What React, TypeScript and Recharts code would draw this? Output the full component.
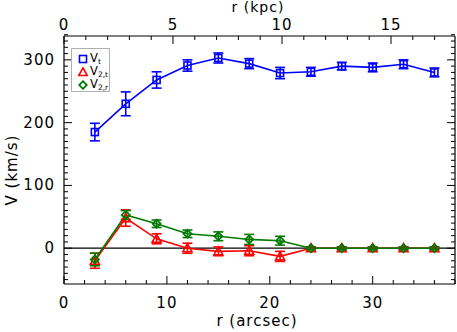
import React from "react";
import {
  ComposedChart,
  Line,
  XAxis,
  YAxis,
  ErrorBar,
  ReferenceLine,
} from "recharts";

// ---- data (r in arcsec) ----
const radii = [3, 6, 9, 12, 15, 18, 21, 24, 27, 30, 33, 36];
const vt = [185, 230, 268, 291, 303, 294, 279, 281, 290, 288, 293, 280];
const vtErr = [14, 19, 13, 9, 8, 8, 9, 7, 6, 7, 7, 7];
const v2t = [-20, 48, 15, 0, -5, -4, -13, 0, 0, 0, 0, 0];
const v2tErr = [12, 13, 8, 8, 7, 8, 8, 2, 2, 2, 2, 2];
const v2r = [-18, 53, 39, 23, 19, 14, 12, 0, 0, 0, 0, 0];
const v2rErr = [10, 7, 6, 6, 7, 8, 7, 2, 2, 2, 2, 2];

const bottomTicks = [0, 2, 4, 6, 8, 10, 12, 14, 16, 18, 20, 22, 24, 26, 28, 30, 32, 34, 36, 38];
const kpcTicks = [0, 1, 2, 3, 4, 5, 6, 7, 8, 9, 10, 11, 12, 13, 14, 15, 16, 17];
const yTicks = Array.from({ length: 40 }, (_, i) => -50 + i * 10);

const KPC_PER_ARCSEC = 0.472;
const X_DOMAIN: [number, number] = [0, 38];
const Y_DOMAIN: [number, number] = [-57, 338];

const data = radii.map((r, i) => ({
  r,
  vt: vt[i],
  vtErr: vtErr[i],
  v2t: v2t[i],
  v2tErr: v2tErr[i],
  v2r: v2r[i],
  v2rErr: v2rErr[i],
}));

const BLUE = "#0000ff";
const RED = "#ff0000";
const GREEN = "#007a00";
const FONT = "'DejaVu Sans', sans-serif";
const TICK_FONT_SIZE = 15;
const LABEL_COLOR = "#000";

const MAJOR = 8;
const MINOR = 4;

const BottomTick = (props: any) => {
  const { x, y, payload } = props;
  const v = payload.value;
  const major = Math.abs(v % 10) < 1e-6;
  return (
    <g>
      <line x1={x} y1={y} x2={x} y2={y - (major ? MAJOR : MINOR)} stroke="#000" strokeWidth={1} />
      {major && (
        <text x={x} y={y + 24} textAnchor="middle" fontSize={TICK_FONT_SIZE} fontFamily={FONT} fill={LABEL_COLOR} letterSpacing={1}>
          {v}
        </text>
      )}
    </g>
  );
};

const TopTick = (props: any) => {
  const { x, y, payload } = props;
  const kpc = Math.round(payload.value * KPC_PER_ARCSEC);
  const major = kpc % 5 === 0;
  return (
    <g>
      <line x1={x} y1={y} x2={x} y2={y + (major ? MAJOR : MINOR)} stroke="#000" strokeWidth={1} />
      {major && (
        <text x={x} y={y - 6} textAnchor="middle" fontSize={TICK_FONT_SIZE} fontFamily={FONT} fill={LABEL_COLOR} letterSpacing={1}>
          {kpc}
        </text>
      )}
    </g>
  );
};

const LeftTick = (props: any) => {
  const { x, y, payload } = props;
  const v = payload.value;
  const major = v % 100 === 0;
  return (
    <g>
      <line x1={x} y1={y} x2={x + (major ? MAJOR : MINOR)} y2={y} stroke="#000" strokeWidth={1} />
      {major && (
        <text x={x - 9} y={y + 5} textAnchor="end" fontSize={TICK_FONT_SIZE} fontFamily={FONT} fill={LABEL_COLOR} letterSpacing={1}>
          {v}
        </text>
      )}
    </g>
  );
};

const RightTick = (props: any) => {
  const { x, y, payload } = props;
  const major = payload.value % 100 === 0;
  return <line x1={x} y1={y} x2={x - (major ? MAJOR : MINOR)} y2={y} stroke="#000" strokeWidth={1} />;
};

const SquareDot = (props: any) => {
  const { cx, cy, index } = props;
  if (cx == null || cy == null) return <g key={`s${index}`} />;
  return <rect key={`s${index}`} x={cx - 3.5} y={cy - 3.5} width={7} height={7} fill="none" stroke={BLUE} strokeWidth={1.6} />;
};

const TriDot = (props: any) => {
  const { cx, cy, index } = props;
  if (cx == null || cy == null) return <g key={`t${index}`} />;
  return (
    <polygon
      key={`t${index}`}
      points={`${cx},${cy - 4.5} ${cx - 4.5},${cy + 3.5} ${cx + 4.5},${cy + 3.5}`}
      fill="none"
      stroke={RED}
      strokeWidth={1.6}
    />
  );
};

const DiamondDot = (props: any) => {
  const { cx, cy, index } = props;
  if (cx == null || cy == null) return <g key={`d${index}`} />;
  return (
    <polygon
      key={`d${index}`}
      points={`${cx},${cy - 4} ${cx + 4},${cy} ${cx},${cy + 4} ${cx - 4},${cy}`}
      fill="none"
      stroke={GREEN}
      strokeWidth={1.8}
    />
  );
};

const legendItems = [
  { name: "V", sub: "t", color: BLUE, kind: "square" },
  { name: "V", sub: "2,t", color: RED, kind: "tri" },
  { name: "V", sub: "2,r", color: GREEN, kind: "diamond" },
];

const LegendBox = () => (
  <div
    style={{
      position: "absolute",
      left: 71,
      top: 48,
      width: 37,
      height: 42,
      border: "1px solid #b0b0b0",
      background: "#fff",
      fontFamily: FONT,
    }}
  >
    {legendItems.map((it, i) => (
      <div key={it.sub} style={{ position: "absolute", left: 6, top: 3 + i * 13, height: 13, display: "flex", alignItems: "center", whiteSpace: "nowrap" }}>
        <svg width={10} height={10} style={{ display: "block" }}>
          {it.kind === "square" && <rect x={1.5} y={1.5} width={7} height={7} fill="none" stroke={it.color} strokeWidth={1.6} />}
          {it.kind === "tri" && <polygon points="5,0.8 0.8,8.5 9.2,8.5" fill="none" stroke={it.color} strokeWidth={1.6} />}
          {it.kind === "diamond" && <polygon points="5,1.2 8.8,5 5,8.8 1.2,5" fill="none" stroke={it.color} strokeWidth={1.8} />}
        </svg>
        <span style={{ marginLeft: 2, fontSize: 11.5, lineHeight: "11px", color: "#000" }}>
          {it.name}
          <sub style={{ fontSize: 7.5, lineHeight: "7px", verticalAlign: "-2px" }}>{it.sub}</sub>
        </span>
      </div>
    ))}
  </div>
);

export default function App() {
  return (
    <div style={{ position: "absolute", left: 0, top: 0, width: 457, height: 332, background: "#fff" }}>
      <ComposedChart
        width={457}
        height={332}
        data={data}
        margin={{ top: 35, right: 1, bottom: 47, left: 0 }}
        style={{ fontFamily: FONT }}
      >
        <XAxis
          xAxisId="bottom"
          dataKey="r"
          type="number"
          orientation="bottom"
          domain={X_DOMAIN}
          allowDataOverflow
          ticks={bottomTicks}
          interval={0}
          height={1}
          tickSize={0}
          tickMargin={0}
          tickLine={false}
          axisLine={{ stroke: "#000", strokeWidth: 1.2 }}
          tick={<BottomTick />}
        />
        <XAxis
          xAxisId="top"
          dataKey="r"
          type="number"
          orientation="top"
          domain={X_DOMAIN}
          allowDataOverflow
          ticks={kpcTicks.map((k) => k / KPC_PER_ARCSEC)}
          interval={0}
          height={1}
          tickSize={0}
          tickMargin={0}
          tickLine={false}
          axisLine={{ stroke: "#000", strokeWidth: 1.2 }}
          tick={<TopTick />}
        />
        <YAxis
          yAxisId="left"
          type="number"
          orientation="left"
          domain={Y_DOMAIN}
          allowDataOverflow
          ticks={yTicks}
          interval={0}
          width={64}
          tickSize={0}
          tickMargin={0}
          tickLine={false}
          axisLine={{ stroke: "#000", strokeWidth: 1.2 }}
          tick={<LeftTick />}
        />
        <YAxis
          yAxisId="right"
          type="number"
          orientation="right"
          domain={Y_DOMAIN}
          allowDataOverflow
          ticks={yTicks}
          interval={0}
          width={1}
          tickSize={0}
          tickMargin={0}
          tickLine={false}
          axisLine={{ stroke: "#000", strokeWidth: 1.2 }}
          tick={<RightTick />}
        />
        <ReferenceLine xAxisId="bottom" yAxisId="left" y={0} stroke="#000" strokeWidth={1.3} />
        <Line
          xAxisId="bottom"
          yAxisId="left"
          dataKey="vt"
          stroke={BLUE}
          strokeWidth={1.6}
          dot={<SquareDot />}
          isAnimationActive={false}
          name="Vt"
        >
          <ErrorBar dataKey="vtErr" width={5} stroke={BLUE} strokeWidth={1.6} direction="y" />
        </Line>
        <Line
          xAxisId="bottom"
          yAxisId="left"
          dataKey="v2t"
          stroke={RED}
          strokeWidth={1.6}
          dot={<TriDot />}
          isAnimationActive={false}
          name="V2t"
        >
          <ErrorBar dataKey="v2tErr" width={5} stroke={RED} strokeWidth={1.6} direction="y" />
        </Line>
        <Line
          xAxisId="bottom"
          yAxisId="left"
          dataKey="v2r"
          stroke={GREEN}
          strokeWidth={1.6}
          dot={<DiamondDot />}
          isAnimationActive={false}
          name="V2r"
        >
          <ErrorBar dataKey="v2rErr" width={5} stroke={GREEN} strokeWidth={1.6} direction="y" />
        </Line>
        <text x={258} y={12} textAnchor="middle" fontSize={14} fontFamily={FONT} fill="#000" letterSpacing={1}>
          r (kpc)
        </text>
        <text x={257} y={326} textAnchor="middle" fontSize={TICK_FONT_SIZE} fontFamily={FONT} fill="#000" letterSpacing={1}>
          r (arcsec)
        </text>
        <text
          x={17}
          y={170}
          textAnchor="middle"
          fontSize={TICK_FONT_SIZE}
          fontFamily={FONT}
          fill="#000"
          letterSpacing={1}
          transform="rotate(-90 17 170)"
        >
          V (km/s)
        </text>
      </ComposedChart>
      <LegendBox />
    </div>
  );
}
